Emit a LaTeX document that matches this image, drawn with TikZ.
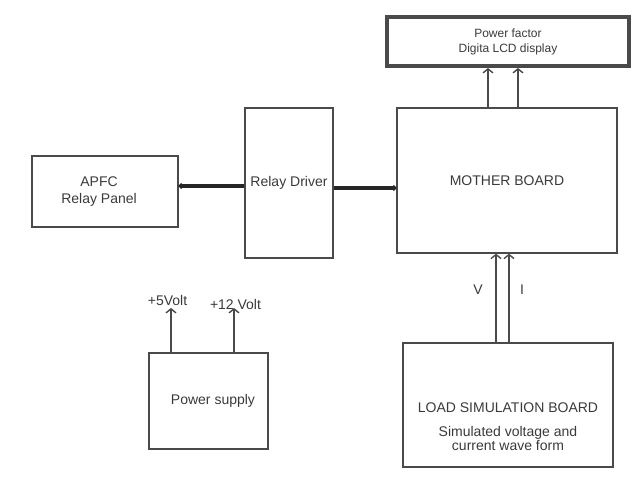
\documentclass[tikz,border=0pt]{standalone}
\usepackage{fontspec}
\setsansfont{Liberation Sans}
\usetikzlibrary{arrows.meta,positioning}
\definecolor{wire}{HTML}{4A4A4A}
\definecolor{ink}{HTML}{3A3A3A}

\begin{document}
\begin{tikzpicture}[x=1pt,y=-1pt,
 box/.style={draw=wire,line width=1.4pt,inner sep=0pt,align=center,text=ink,
 font=\sffamily\fontsize{14}{16}\selectfont},
 sig/.style={draw=wire,line width=1.4pt,-{Straight Barb[length=4pt,width=10pt]}},
 bus/.style={draw=black!85,line width=4pt,-{Circle[length=5pt]}},
 tag/.style={text=ink,inner sep=1pt,font=\sffamily\fontsize{14}{16}\selectfont}]
\useasboundingbox (0,0) rectangle (633,481);
\node[box,line width=4pt,minimum width=242pt,minimum height=49pt,
 font=\sffamily\fontsize{12}{15}\selectfont] (lcd) at (508,41.5) {Power factor\\Digita LCD display};
\node[box,minimum width=220pt,minimum height=145pt] (md) at (507,180.5) {MOTHER BOARD};
\node[box,minimum width=88pt,minimum height=150pt] (rd) at (289,183) {Relay Driver};
\node[box,minimum width=146pt,minimum height=71pt] (apfc) at (105,191.5) {\hspace*{-12pt}APFC\\[1pt]\hspace*{-12pt}Relay Panel};
\node[box,minimum width=119pt,minimum height=96pt] (ps) at (208.5,401) {\hspace*{9pt}Power supply};
\node[box,minimum width=210pt,minimum height=124pt,
 label={[tag,align=center,yshift=-22pt,font=\sffamily\fontsize{14}{14.5}\selectfont]center:LOAD SIMULATION BOARD\\[9pt]Simulated voltage and\\current wave form}] (lsb) at (508,405) {};
% links
\draw[bus] ([yshift=-3pt]rd.west) -- ([yshift=-3pt]rd.west -| apfc.east);
\draw[bus] ([yshift=-5pt]rd.east) -- ([yshift=-5pt]rd.east -| md.west);
\foreach \s in {-19,11}
 \draw[sig] ([xshift=\s pt]md.north) -- ([xshift=\s pt]md.north |- lcd.south);
\foreach \s in {-12,1}
 \draw[sig] ([xshift=\s pt]lsb.north) -- ([xshift=\s pt]lsb.north |- md.south);
\node[tag] (v) at (478,290) {V};
\node[tag] (i) at (522,290) {I};
% supply outputs
\coordinate (p5) at (171,308);
\coordinate (p12) at (234,308);
\draw[sig] (ps.north -| p5) -- (p5);
\draw[sig] (ps.north -| p12) -- (p12);
\node[tag,anchor=base] (l5) at (167.5,306) {+5Volt};
\node[tag,anchor=base] (l12) at (235.5,310) {+12 Volt};
\end{tikzpicture}
\end{document}
